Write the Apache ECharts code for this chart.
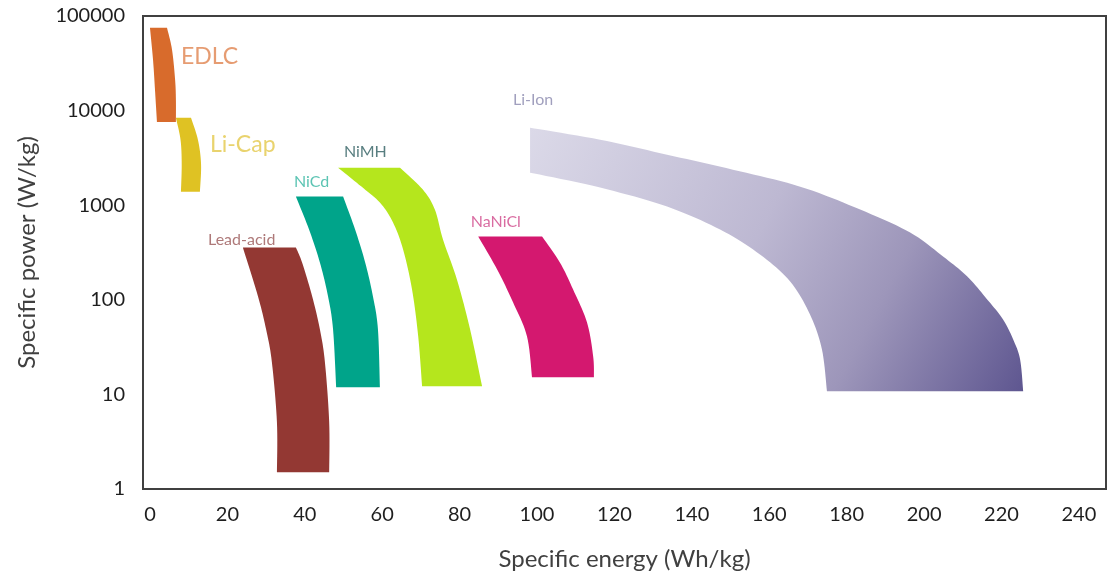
<!DOCTYPE html>
<html>
<head>
<meta charset="utf-8">
<title>Ragone plot</title>
<script src="https://cdn.jsdelivr.net/npm/echarts@6/dist/echarts.min.js"></script>
<style>
  html, body { margin: 0; padding: 0; background: #ffffff; }
  #chart { width: 1107px; height: 576px; }
</style>
</head>
<body>
<div id="chart"></div>
<script>
// Axis ticks
const energyTicks = [0, 20, 40, 60, 80, 100, 120, 140, 160, 180, 200, 220, 240];
const powerTicks = [1, 10, 100, 1000, 10000, 100000];

// Operating regions as [specific energy (Wh/kg), specific power (W/kg)] vertices.
// "Outer" runs from the top corner down the high-energy side,
// "inner" runs from the bottom corner back up the low-energy side.
const edlcOuter = [[4.4, 75000], [5.7, 44000], [6.5, 21000], [6.7, 13000], [6.7, 7600]];
const edlcInner = [[1.8, 7600], [1.3, 16500], [0.8, 34000], [0, 75000]];

const liCapOuter = [[10.6, 8400], [12.4, 4900], [13.2, 2700], [12.9, 1390]];
const liCapInner = [[8.0, 1390], [8.2, 2700], [7.9, 4900], [6.7, 8400]];

const leadAcidOuter = [[37.7, 357], [39.3, 248], [41.9, 109], [43.9, 48.7], [45.2, 21.9],
  [46.3, 5.1], [46.3, 1.5]];
const leadAcidInner = [[32.8, 1.5], [32.8, 5.1], [31.5, 21.9], [30.0, 48.7], [27.9, 109],
  [24.0, 357]];

const niCdOuter = [[49.9, 1233], [53.0, 553], [55.6, 248], [57.6, 109], [58.9, 48.7],
  [59.4, 11.9]];
const niCdInner = [[48.1, 11.9], [47.3, 48.7], [46.0, 109], [43.9, 248], [41.1, 553],
  [37.7, 1233]];

const niMHOuter = [[64.6, 2490], [70.5, 1462], [73.6, 899], [75.7, 434], [79.3, 164],
  [82.7, 48.7], [85.8, 12.2]];
const niMHInner = [[70.3, 12.2], [69.3, 41.1], [67.7, 129], [65.4, 340], [62.8, 655],
  [59.4, 1065], [54.0, 1650], [48.6, 2490]];

const naNiClOuter = [[101.3, 467], [105.9, 248], [109.3, 129], [112.9, 57.8], [114.5, 25.3],
  [114.7, 15.2]];
const naNiClInner = [[98.7, 15.2], [97.4, 41.1], [93.8, 94], [89.7, 209], [84.8, 467]];

const liIonOuter = [[98.2, 6590], [116.3, 4920], [133.6, 3420], [150.6, 2375], [168.0, 1570],
  [183.5, 899], [196.4, 514], [204.9, 287], [211.1, 177], [216.3, 101], [220.4, 62],
  [223.0, 38.2], [224.8, 23.5], [225.6, 10.8]];
const liIonInner = [[174.9, 10.8], [173.6, 30.0], [170.5, 70.2], [165.4, 156], [157.6, 301],
  [147.3, 553], [133.6, 966], [116.3, 1535], [98.2, 2208]];

// Region captions: name, anchor [energy, power]
const captionNames = ['EDLC', 'Li-Cap', 'Lead-acid', 'NiCd', 'NiMH', 'NaNiCl', 'Li-Ion'];
const captionAnchors = [[8.0, 37000], [15.5, 4360], [15.0, 434], [37.2, 1775], [50.1, 3675],
  [82.9, 671], [93.8, 13000]];

const chart = echarts.init(document.getElementById('chart'), null, { renderer: 'canvas' });

// Catmull-Rom curve through projected points, sampled for a smooth outline.
function smoothPath(px) {
  if (px.length < 3) return px.slice();
  const out = [];
  const n = px.length;
  for (let i = 0; i < n - 1; i++) {
    const p0 = px[Math.max(i - 1, 0)], p1 = px[i], p2 = px[i + 1], p3 = px[Math.min(i + 2, n - 1)];
    const steps = 10;
    for (let s = 0; s < steps; s++) {
      const t = s / steps, t2 = t * t, t3 = t2 * t;
      out.push([
        0.5 * (2 * p1[0] + (-p0[0] + p2[0]) * t + (2 * p0[0] - 5 * p1[0] + 4 * p2[0] - p3[0]) * t2 + (-p0[0] + 3 * p1[0] - 3 * p2[0] + p3[0]) * t3),
        0.5 * (2 * p1[1] + (-p0[1] + p2[1]) * t + (2 * p0[1] - 5 * p1[1] + 4 * p2[1] - p3[1]) * t2 + (-p0[1] + 3 * p1[1] - 3 * p2[1] + p3[1]) * t3)
      ]);
    }
  }
  out.push(px[n - 1]);
  return out;
}

function regionSeries(name, outer, inner, fill) {
  const all = outer.concat(inner);
  return {
    type: 'custom',
    name: name,
    coordinateSystem: 'cartesian2d',
    silent: true,
    data: all,
    renderItem: function (params, api) {
      if (params.dataIndex !== 0) return null;
      const a = smoothPath(outer.map(function (p) { return api.coord(p); }));
      const b = smoothPath(inner.map(function (p) { return api.coord(p); }));
      return {
        type: 'polygon',
        shape: { points: a.concat(b) },
        style: { fill: fill }
      };
    }
  };
}

const liIonFill = new echarts.graphic.LinearGradient(0, 0, 1, 1, [
  { offset: 0, color: '#dbd9e8' },
  { offset: 0.45, color: '#bdb8d2' },
  { offset: 0.7, color: '#9d96ba' },
  { offset: 1, color: '#5e5690' }
]);

const captionStyles = [
  { color: '#e0834f', size: 23 },
  { color: '#e3c84a', size: 23 },
  { color: '#9a5858', size: 16 },
  { color: '#33b5a0', size: 16 },
  { color: '#2e5e60', size: 16 },
  { color: '#d0478a', size: 16 },
  { color: '#8a88ae', size: 16 }
];

const captionSeries = captionNames.map(function (name, i) {
  return {
    type: 'scatter',
    silent: true,
    symbolSize: 0,
    data: [captionAnchors[i]],
    label: {
      show: true,
      position: 'inside',
      align: 'left',
      verticalAlign: 'middle',
      formatter: name,
      fontFamily: 'Lato',
      fontSize: captionStyles[i].size,
      color: captionStyles[i].color
    }
  };
});

const option = {
  animation: false,
  backgroundColor: '#ffffff',
  grid: {
    left: 143, right: 1, top: 16, bottom: 86,
    show: true,
    borderColor: '#404040',
    borderWidth: 2
  },
  xAxis: {
    type: 'value',
    min: -1.8,
    max: 247,
    name: 'Specific energy (Wh/kg)',
    nameLocation: 'middle',
    nameGap: 58,
    nameTextStyle: { fontFamily: 'Lato', fontSize: 24, color: '#404040' },
    axisLine: { show: false },
    axisTick: { show: false },
    splitLine: { show: false },
    axisLabel: {
      customValues: energyTicks,
      margin: 16,
      fontFamily: 'Lato',
      fontSize: 20,
      color: '#1e1e1e',
      formatter: function (v) { return String(Math.round(v)); }
    }
  },
  yAxis: {
    type: 'log',
    logBase: 10,
    min: 1,
    max: 100000,
    name: 'Specific power (W/kg)',
    nameLocation: 'middle',
    nameGap: 104,
    nameTextStyle: { fontFamily: 'Lato', fontSize: 24, color: '#404040' },
    axisLine: { show: false },
    axisTick: { show: false },
    splitLine: { show: false },
    axisLabel: {
      customValues: powerTicks,
      margin: 18,
      fontFamily: 'Lato',
      fontSize: 20,
      color: '#1e1e1e',
      formatter: function (v) { return String(Math.round(v)); }
    }
  },
  series: [
    regionSeries('Li-Ion', liIonOuter, liIonInner, liIonFill),
    regionSeries('EDLC', edlcOuter, edlcInner, '#d86b2c'),
    regionSeries('Li-Cap', liCapOuter, liCapInner, '#dfc223'),
    regionSeries('Lead-acid', leadAcidOuter, leadAcidInner, '#933833'),
    regionSeries('NiCd', niCdOuter, niCdInner, '#00a48a'),
    regionSeries('NiMH', niMHOuter, niMHInner, '#b5e61d'),
    regionSeries('NaNiCl', naNiClOuter, naNiClInner, '#d4186f')
  ].concat(captionSeries)
};

chart.setOption(option);
</script>
</body>
</html>
